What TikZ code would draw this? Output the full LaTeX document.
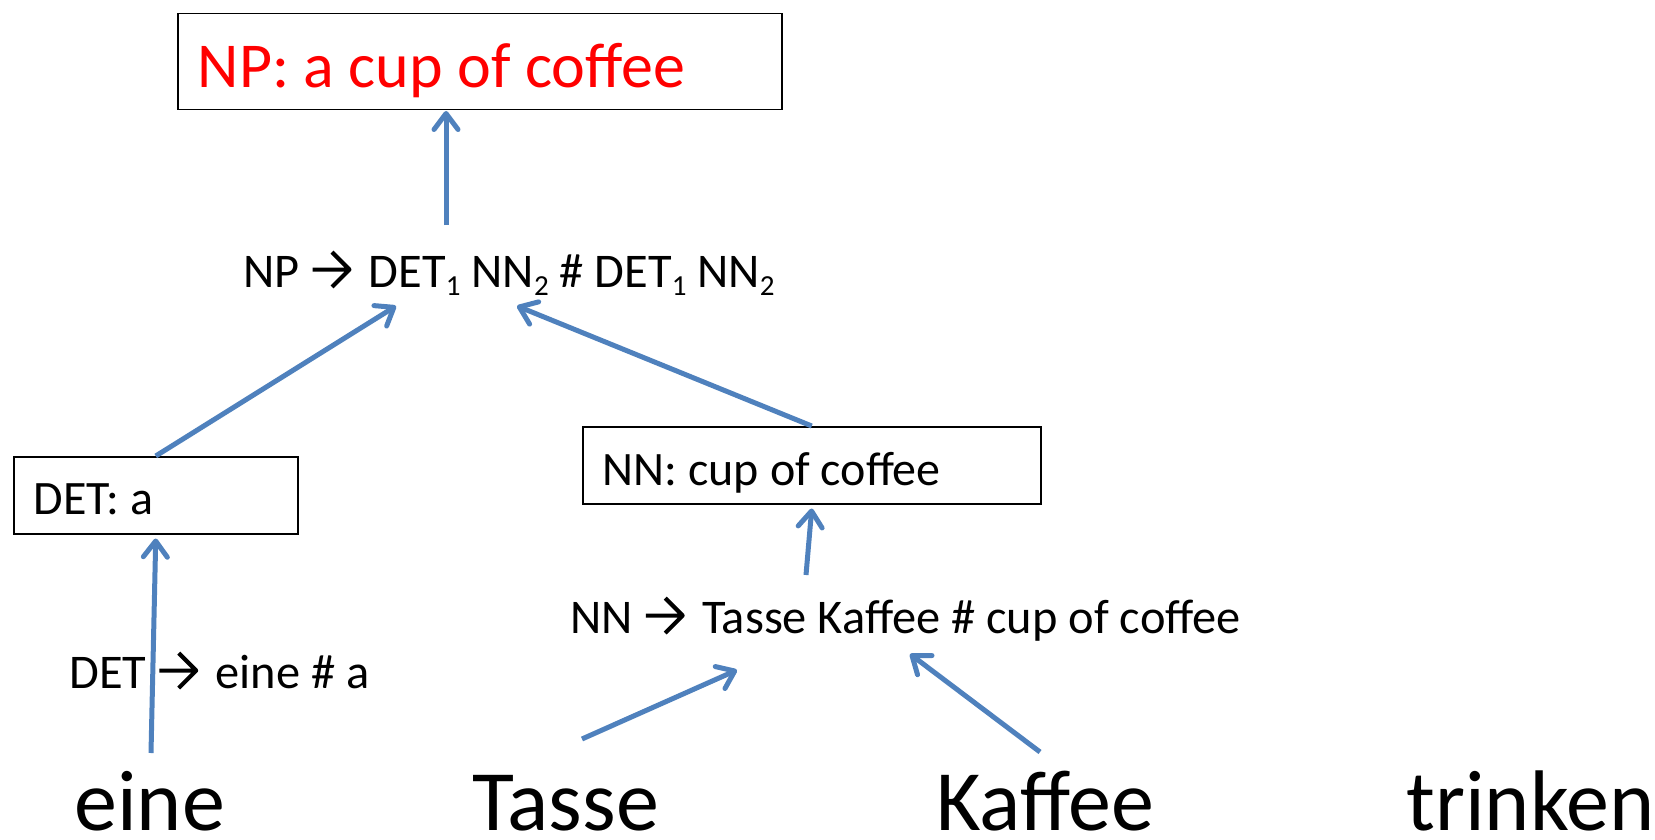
\documentclass[tikz,border=0pt]{standalone}
\usepackage{fontspec}
\setmainfont{Carlito}
\usetikzlibrary{arrows.meta}
\definecolor{arrowblue}{HTML}{4F81BD}
% bold chevron arrow used inside the rewrite rules
\newcommand{\ruleto}{\tikz[x=1em,y=1em,baseline=0pt]{%
  \draw[line width=0.085em, line cap=butt, line join=round]
    (0,0.36) -- (0.74,0.36)
    (0.40,0.72) -- (0.76,0.36) -- (0.40,0.0);}\hspace{0.36em}}
\newcommand{\lowidx}[1]{\raisebox{-0.35ex}{\fontsize{0.6em}{0.6em}\selectfont #1}}
\begin{document}
\begin{tikzpicture}[x=0.5pt,y=-0.5pt,
  box/.style={draw=black, line width=0.75pt, inner sep=0pt, anchor=north west},
  ruletext/.style={inner sep=0pt, anchor=base west, font=\fontsize{24.2}{28}\selectfont},
  word/.style={inner sep=0pt, anchor=base west, text depth=0pt, font=\fontsize{43}{50}\selectfont},
  link/.style={draw=arrowblue, line width=2.5pt,
    -{Straight Barb[length=8pt,width=12pt,line width=2.5pt,round]}}]
\useasboundingbox (0,0) rectangle (1655,840);

% boxes holding the translated results
\node[box, text=red, text height=36.75pt, text depth=11.25pt,
      font=\fontsize{32}{36}\selectfont] (np) at (177,13)
  {\makebox[302pt][l]{\hspace*{10pt}NP: a cup of coffee}};
\node[box, text height=29pt, text depth=9.5pt,
      font=\fontsize{24}{28}\selectfont] (det) at (13,456)
  {\makebox[142pt][l]{\hspace*{10pt}DET: a}};
\node[box, text height=29.25pt, text depth=9.25pt,
      font=\fontsize{24}{28}\selectfont] (nn) at (582,426)
  {\makebox[229pt][l]{\hspace*{10pt}NN: cup of coffee}};

% rewrite rules
\node[ruletext] (nprule) at (243,287) {NP \ruleto DET\lowidx{1} NN\lowidx{2} \# DET\lowidx{1} NN\lowidx{2}};
\node[ruletext] (detrule) at (69,688) {DET \ruleto eine \# a};
\node[ruletext] (nnrule) at (570,633) {NN \ruleto Tasse Kaffee \# cup of coffee};

% source sentence
\node[word] (eine) at (74,830) {eine};
\node[word] (tasse) at (472,830) {Tasse};
\node[word] (kaffee) at (936,830) {Kaffee};
\node[word] (trinken) at (1406,830) {trinken};

% connector end points
\coordinate (npin) at (446,111);
\coordinate (npout) at (446,225);
\coordinate (ruledet) at (396,306);
\coordinate (rulenn) at (517,306);
\coordinate (eineout) at (151,753);
\coordinate (nnout) at (806,575);
\coordinate (nnin) at (737,670);
\coordinate (nnin2) at (910,654);
\coordinate (tasseout) at (582,739);
\coordinate (kaffeeout) at (1040,752);

\draw[link] (npout) -- (npin);
\draw[link] (det.north) -- (ruledet);
\draw[link] (nn.north) -- (rulenn);
\draw[link] (eineout) -- ([yshift=-2pt]det.south);
\draw[link] (nnout) -- ([yshift=-2pt]nn.south);
\draw[link] (tasseout) -- (nnin);
\draw[link] (kaffeeout) -- (nnin2);
\end{tikzpicture}
\end{document}
